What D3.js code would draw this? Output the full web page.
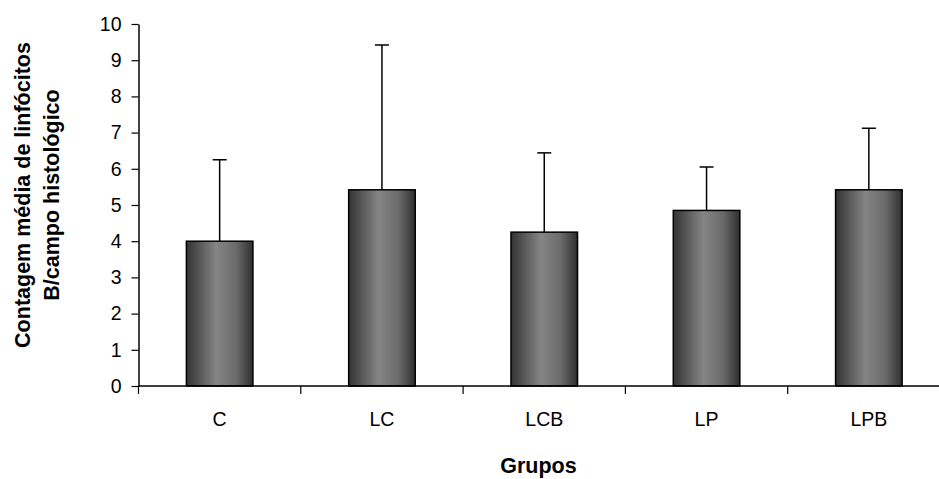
<!DOCTYPE html>
<html>
<head>
<meta charset="utf-8">
<script src="https://cdn.jsdelivr.net/npm/d3@7"></script>
<style>
  body { margin: 0; background: #fff; }
  svg { display: block; font-family: "Liberation Sans", Arial, sans-serif; }
</style>
</head>
<body>
<svg width="939" height="479"></svg>
<script>
var categories = ["C", "LC", "LCB", "LP", "LPB"];
var means = [4.0, 5.42, 4.25, 4.85, 5.42];
var errors = [2.25, 4.0, 2.19, 1.2, 1.7];
var yTicks = [0, 1, 2, 3, 4, 5, 6, 7, 8, 9, 10];

var margin = { top: 24, left: 138.5, bottom: 93 };
var width = 939;
var height = 479;

var svg = d3.select("svg");

var defs = svg.append("defs");
var grad = defs.append("linearGradient")
  .attr("id", "barGrad")
  .attr("x1", "0%").attr("x2", "100%")
  .attr("y1", "0%").attr("y2", "0%");
grad.append("stop").attr("offset", "0%").attr("stop-color", "#333");
grad.append("stop").attr("offset", "45%").attr("stop-color", "#858585");
grad.append("stop").attr("offset", "75%").attr("stop-color", "#6a6a6a");
grad.append("stop").attr("offset", "100%").attr("stop-color", "#2e2e2e");

var x = d3.scaleBand()
  .domain(categories)
  .range([margin.left, margin.left + 5 * 162.3])
  .paddingInner(0.59)
  .paddingOuter(0.295);

var y = d3.scaleLinear()
  .domain([0, 10])
  .range([height - margin.bottom, margin.top]);

// bars
svg.selectAll(".bar")
  .data(categories)
  .enter()
  .append("rect")
  .attr("class", "bar")
  .attr("x", function (d) { return x(d); })
  .attr("width", x.bandwidth())
  .attr("y", function (d, i) { return y(means[i]); })
  .attr("height", function (d, i) { return y(0) - y(means[i]); })
  .attr("fill", "url(#barGrad)")
  .attr("stroke", "#000")
  .attr("stroke-width", 1.5);

// error bars
var err = svg.selectAll(".err")
  .data(categories)
  .enter()
  .append("g")
  .attr("class", "err")
  .attr("stroke", "#000")
  .attr("stroke-width", 1.5);

err.append("line")
  .attr("x1", function (d) { return x(d) + x.bandwidth() / 2; })
  .attr("x2", function (d) { return x(d) + x.bandwidth() / 2; })
  .attr("y1", function (d, i) { return y(means[i]); })
  .attr("y2", function (d, i) { return y(means[i] + errors[i]); });

err.append("line")
  .attr("x1", function (d) { return x(d) + x.bandwidth() / 2 - 7; })
  .attr("x2", function (d) { return x(d) + x.bandwidth() / 2 + 7; })
  .attr("y1", function (d, i) { return y(means[i] + errors[i]); })
  .attr("y2", function (d, i) { return y(means[i] + errors[i]); });

// y axis
var yAxis = svg.append("g")
  .attr("transform", "translate(" + margin.left + ",0)")
  .call(d3.axisLeft(y).tickValues(yTicks).tickSize(7).tickPadding(10).tickSizeOuter(0));
yAxis.select(".domain").attr("stroke-width", 1.5);
yAxis.selectAll(".tick line").attr("stroke-width", 1.2);
yAxis.selectAll("text").style("font-size", "19.5px").attr("fill", "#000");

// x axis
var xAxisG = svg.append("g")
  .attr("transform", "translate(0," + y(0) + ")");
xAxisG.append("line")
  .attr("x1", margin.left)
  .attr("x2", width)
  .attr("stroke", "#000")
  .attr("stroke-width", 1.5);
var step = x.step();
var boundaries = d3.range(categories.length + 1).map(function (i) {
  return margin.left + i * step;
});
xAxisG.selectAll(".xt")
  .data(boundaries)
  .enter()
  .append("line")
  .attr("x1", function (d) { return d; })
  .attr("x2", function (d) { return d; })
  .attr("y1", 0)
  .attr("y2", 8)
  .attr("stroke", "#000")
  .attr("stroke-width", 1.2);
xAxisG.selectAll(".xl")
  .data(categories)
  .enter()
  .append("text")
  .attr("x", function (d) { return x(d) + x.bandwidth() / 2; })
  .attr("y", 39.5)
  .attr("text-anchor", "middle")
  .style("font-size", "19.5px")
  .text(function (d) { return d; });

// axis titles
svg.append("text")
  .attr("x", 538.5)
  .attr("y", 473)
  .attr("text-anchor", "middle")
  .style("font-size", "21.5px")
  .style("font-weight", "bold")
  .text("Grupos");

var yt = svg.append("text")
  .attr("transform", "translate(29.5,195) rotate(-90)")
  .attr("text-anchor", "middle")
  .style("font-size", "21.5px")
  .style("font-weight", "bold");
yt.append("tspan").attr("x", 0).attr("y", 0).text("Contagem média de linfócitos");
yt.append("tspan").attr("x", 0).attr("y", 29).text("B/campo histológico");
</script>
</body>
</html>
